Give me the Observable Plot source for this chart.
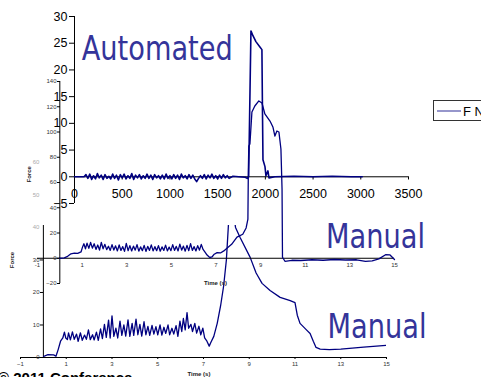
<!DOCTYPE html>
<html><head><meta charset="utf-8">
<script src="https://cdn.jsdelivr.net/npm/d3@7"></script>
<script src="https://cdn.jsdelivr.net/npm/@observablehq/plot@0.6"></script>
<style>
body{margin:0;background:#fff}
#wrap{position:relative;width:481px;height:377px;overflow:hidden;background:#fff;font-family:"Liberation Sans",Arial,sans-serif}
#wrap > svg{position:absolute;left:0;top:0;max-width:none}
</style></head>
<body><div id="wrap"></div>
<script>
// ---------- data ----------
// Automated trial (top chart): time index vs force
const autoTime = [0, 100,
 120,140,160,180,200,220,240,260,280,300,320,340,360,380,400,420,440,460,480,500,
 520,540,560,580,600,620,640,660,680,700,720,740,760,780,800,820,840,860,880,900,
 920,940,960,980,1000,1020,1040,1060,1080,1100,1120,1140,1160,1180,1200,1220,1240,1260,1280,1300,
 1320,1340,1360,1380,1400,1420,1440,1460,1480,1500,1520,1540,1560,1580,1600,1620,
 1660,1720,1790,1810,1825,1849,1870,1901,1943,1964,1970,1975,1996,2006,2027,2038,2100,2300,2500,2700,2900,3015];
const autoForce = [0, 0,
 0.4,-0.3,0.5,-0.5,0.2,-0.4,0.6,-0.2,0.3,-0.5,0.4,-0.3,0.1,-0.4,0.5,-0.3,0.3,-0.6,0.4,-0.2,
 0.5,-0.4,0.2,-0.3,0.6,-0.5,0.3,-0.2,0.4,-0.4,0.2,-0.3,0.5,-0.3,0.3,-0.5,0.4,-0.2,0.2,-0.4,
 0.3,-0.4,0.5,-0.3,0.2,-0.4,0.4,-0.3,0.3,-0.5,0.5,-0.2,0.2,-0.4,0.4,-0.3,0.3,-0.4,-0.9,-0.3,
 0.2,-0.3,0.4,-0.4,0.3,-0.2,0.5,-0.3,0.2,-0.4,0.3,-0.3,0.4,-0.2,0.2,-0.3,
 0.1,0,-0.1,-0.3,0,27.3,26.4,25.3,24.3,23.8,12,3.2,1.9,0.2,1.1,-0.2,0,0.1,0,0.1,0,0];
const topXTicks = [0,500,1000,1500,2000,2500,3000,3500];
const topYTicks = [-5,0,5,10,15,20,25,30];

// Manual trial (middle chart): time (s) vs force
const middleTime = [0,0.2,0.35,0.5,0.65,0.8,0.95,
 1.02,1.08,1.15,1.22,1.3,1.38,1.46,1.54,1.62,1.7,1.78,1.86,1.94,2.02,2.1,2.18,2.26,2.34,2.42,2.5,
 2.58,2.66,2.74,2.82,2.9,2.98,3.06,3.14,3.22,3.3,3.38,3.46,3.54,3.62,3.7,3.78,3.86,3.94,4.02,4.1,
 4.18,4.26,4.34,4.42,4.5,4.58,4.66,4.74,4.82,4.9,4.98,5.06,5.14,5.22,5.3,5.38,5.46,5.54,5.62,5.7,
 5.78,5.86,5.94,6.02,6.1,6.18,6.26,6.34,6.42,
 6.5,6.6,6.72,6.82,6.92,7.05,7.2,7.35,7.49,7.7,7.94,8.2,8.35,8.43,8.45,8.47,8.52,8.61,8.74,8.92,
 9.06,9.19,9.42,9.55,9.64,9.73,9.82,9.91,9.96,9.98,10.09,10.4,10.8,11.3,11.8,12.3,12.8,13.3,13.7,
 14.0,14.3,14.6,14.8,15.0];
const middleForce = [0,0.3,1.5,3.5,4.0,3.8,5.0,
 9,11.5,7.5,12,7.8,12.5,8,11.5,7,10.5,6.5,12.5,7.5,11,6.8,9.5,6.2,10.8,6.5,9.8,
 5.8,10.5,6.2,9.2,5.5,11.8,6.0,10.0,5.8,9.6,6.4,10.8,5.6,9.0,6.0,10.2,5.4,9.4,6.2,10.6,
 5.8,9.2,6.0,10.0,5.6,9.0,6.2,10.4,5.8,8.8,6.0,10.8,6.2,9.4,5.8,11.2,6.4,9.6,5.6,10.2,
 6.0,11.6,6.2,9.2,5.8,10.0,6.4,11.0,7.0,
 5.0,2.5,0.6,1.0,3.2,4.5,4.2,5.8,7.9,11,16.7,19,24,31,70,88.9,90.5,115.9,120.6,124.6,
 123,114.3,108.7,104,96.8,100.8,100,86.5,54.8,0.8,-2.4,-1.6,-1.8,-1.2,-1.6,-1.0,-1.4,-1.2,-2.5,
 -2.0,-0.5,2.8,2.6,-1.0];
const middleXTicks = [-1,1,3,5,7,9,11,13,15];
const middleYTicks = [-20,0,20,40,60,80,100,120,140];

// Manual trial (bottom chart): time (s) vs force
const bottomTime = [0,0.2,0.45,0.55,0.65,0.75,0.85,0.92,0.98,1.05,1.1,1.18,1.27,1.35,1.45,1.52,1.62,1.7,1.8,1.88,
 1.97,2.05,2.15,2.22,2.32,2.4,2.5,2.58,2.67,2.75,2.85,2.92,3.0,3.08,3.17,3.25,3.35,3.43,3.52,3.6,
 3.7,3.78,3.88,3.95,4.05,4.13,4.22,4.3,4.4,4.48,4.57,4.65,4.75,4.83,4.92,5.0,5.1,5.18,5.27,5.35,
 5.45,5.52,5.62,5.7,5.8,5.88,5.97,6.05,6.12,6.2,6.28,6.35,6.45,6.52,6.62,6.7,6.8,6.88,6.97,7.05,
 7.15,7.25,7.32,7.45,7.6,7.75,7.88,8.0,8.1,8.25,8.4,8.6,9.04,9.3,9.56,9.91,10.35,10.79,11.0,11.1,
 11.22,11.5,11.66,11.8,11.92,12.1,12.5,13.0,14.0,14.98];
const bottomForce = [0.3,0.9,0.8,0.4,2.5,5.0,6.0,7.8,6.0,5.5,7.6,5.4,7.9,5.6,7.2,5.0,7.6,5.3,6.9,5.6,
 8.5,5.5,7.0,5.4,7.8,5.3,8.8,5.8,10.2,6.2,11.5,6.0,12.8,6.5,9.0,6.0,11.2,6.8,10.0,6.6,
 11.6,6.5,10.5,6.8,11.8,7.0,10.2,6.6,11.0,7.0,9.6,6.8,9.9,7.2,9.5,7.0,10.0,6.9,9.3,7.4,
 10.0,7.0,9.0,7.2,9.8,6.5,11.2,8.0,12.0,8.5,13.8,9.0,10.2,8.0,10.5,7.5,9.6,7.0,9.0,6.0,
 5.0,3.5,4.6,6.5,10.5,16,22,30,42,48,40,36.9,30.8,26,22.8,20.6,18.5,17.5,16.9,13,
 10.5,8.5,7.4,5,3.1,2.6,2.4,2.6,3.2,3.7];
const bottomXTicks = [-1,1,3,5,7,9,11,13,15];
const bottomYTicks = [0,10,20,30];
const bottomFaintTicks = [40,50,60];

// annotations
const topLabel = [{x: 76, y: 23.9, text: "Automated"}];
const middleLabel = [{x: 11.93, y: 16.4, text: "Manual"}];
const bottomLabel = [{x: 12.42, y: 9.2, text: "Manual"}];
const legendLabel = "F N";
const footer = "© 2011 Conference";

// ---------- drawing ----------
const W = 481, H = 377;
const navy = "#000080";
const annoColor = "#34349a";
const baseStyle = {background: "transparent", fontFamily: "'Liberation Sans', Arial, sans-serif", overflow: "visible"};
const anno = {x: "x", y: "y", text: "text", textAnchor: "start", fontSize: 34, fill: annoColor,
  fontFamily: "'DejaVu Sans', Verdana, sans-serif"};
const zip = (a, b) => a.map((t, i) => ({t, f: b[i]})).filter(d => d.f !== undefined);
const wrap = document.getElementById("wrap");

const bottomPlot = Plot.plot({
  width: W, height: H,
  marginLeft: 43, marginRight: 95, marginTop: 225, marginBottom: 20,
  x: {domain: [-1, 15], range: [20, 386]},
  y: {domain: [0, 40.6]},
  style: baseStyle,
  marks: [
    Plot.ruleY([0], {x1: -1, x2: 15, stroke: "#000", strokeWidth: 1}),
    Plot.ruleX([0], {stroke: "#000", strokeWidth: 1}),
    Plot.axisX({ticks: bottomXTicks, tickSize: 2, tickPadding: 2, fontSize: 6, fill: "#333", label: null}),
    Plot.axisY({ticks: bottomYTicks, tickSize: 3, tickPadding: 1, fontSize: 6, fill: "#333", label: null}),
    Plot.text(bottomFaintTicks, {x: 0, y: d => d, dx: -4, textAnchor: "end", fontSize: 6, fill: "#aaa"}),
    Plot.line(zip(bottomTime, bottomForce), {x: "t", y: "f", stroke: navy, strokeWidth: 1.3, clip: true}),
    Plot.text(["Force"], {x: -1, y: 30, dx: -8, rotate: -90, fontSize: 6, fontWeight: "bold", fill: "#222"}),
    Plot.text(["Time (s)"], {frameAnchor: "bottom", dx: -16, dy: 18, fontSize: 6, fontWeight: "bold", fill: "#222"}),
    Plot.text(bottomLabel, anno)
  ]
});

const middlePlot = Plot.plot({
  width: W, height: H,
  marginLeft: 60, marginRight: 87, marginTop: 81, marginBottom: 94,
  x: {domain: [-1, 15], range: [37, 394], axis: null},
  y: {domain: [-20, 140]},
  style: baseStyle,
  marks: [
    Plot.ruleY([0], {x1: -1, x2: 15, stroke: "#000", strokeWidth: 1}),
    Plot.ruleX([0], {stroke: "#000", strokeWidth: 1}),
    Plot.axisY({ticks: middleYTicks, tickSize: 3, tickPadding: 1, fontSize: 6, fill: "#333", label: null}),
    Plot.text(middleXTicks, {x: d => d, y: 0, dy: 7, fontSize: 6, fill: "#333"}),
    Plot.line(zip(middleTime, middleForce), {x: "t", y: "f", stroke: navy, strokeWidth: 1.3}),
    Plot.text(["Force"], {frameAnchor: "left", dx: -31, rotate: -90, fontSize: 6, fontWeight: "bold", fill: "#222"}),
    Plot.text(["Time (s)"], {frameAnchor: "bottom", dx: -12, dy: 1, fontSize: 6, fontWeight: "bold", fill: "#222"}),
    Plot.text(middleLabel, anno)
  ]
});

const topPlot = Plot.plot({
  width: W, height: H,
  marginLeft: 74, marginRight: 73, marginTop: 16, marginBottom: 174,
  x: {domain: [0, 3500], axis: null},
  y: {domain: [-5, 30]},
  style: baseStyle,
  marks: [
    Plot.ruleX([0], {stroke: "#000", strokeWidth: 1}),
    Plot.ruleY([0], {stroke: "#000", strokeWidth: 1}),
    Plot.ruleX(topXTicks, {x: d => d, y1: 0, y2: -0.6, stroke: "#000"}),
    Plot.text(topXTicks, {x: d => d, y: 0, text: d => String(d), dy: 17, fontSize: 12.5, fill: "#000"}),
    Plot.axisY({ticks: topYTicks, tickSize: 5, tickPadding: 2, fontSize: 12.5, fill: "#000", label: null}),
    Plot.line(zip(autoTime, autoForce), {x: "t", y: "f", stroke: navy, strokeWidth: 1.6}),
    Plot.text(topLabel, anno)
  ]
});

wrap.append(bottomPlot, middlePlot, topPlot);

// legend and footer
const over = d3.create("svg").attr("width", W).attr("height", H)
  .style("font-family", "'Liberation Sans', Arial, sans-serif");
const lg = over.append("g");
lg.append("rect").attr("x", 433.5).attr("y", 100.5).attr("width", 70).attr("height", 20)
  .attr("fill", "none").attr("stroke", "#333");
lg.append("line").attr("x1", 437).attr("x2", 461).attr("y1", 111).attr("y2", 111)
  .attr("stroke", "#5050a8").attr("stroke-width", 1.2);
lg.append("text").attr("x", 463).attr("y", 115.5).attr("font-size", 13).text(legendLabel);
over.append("text").attr("x", -2).attr("y", 383).attr("font-size", 15).attr("font-weight", "bold")
  .text(footer);
wrap.append(over.node());

// fit annotation widths
d3.selectAll("#wrap text").filter(function() { return this.textContent === "Automated"; })
  .attr("textLength", 151).attr("lengthAdjust", "spacingAndGlyphs");
d3.selectAll("#wrap text").filter(function() { return this.textContent === "Manual"; })
  .attr("textLength", 99).attr("lengthAdjust", "spacingAndGlyphs");
</script>
</body></html>
